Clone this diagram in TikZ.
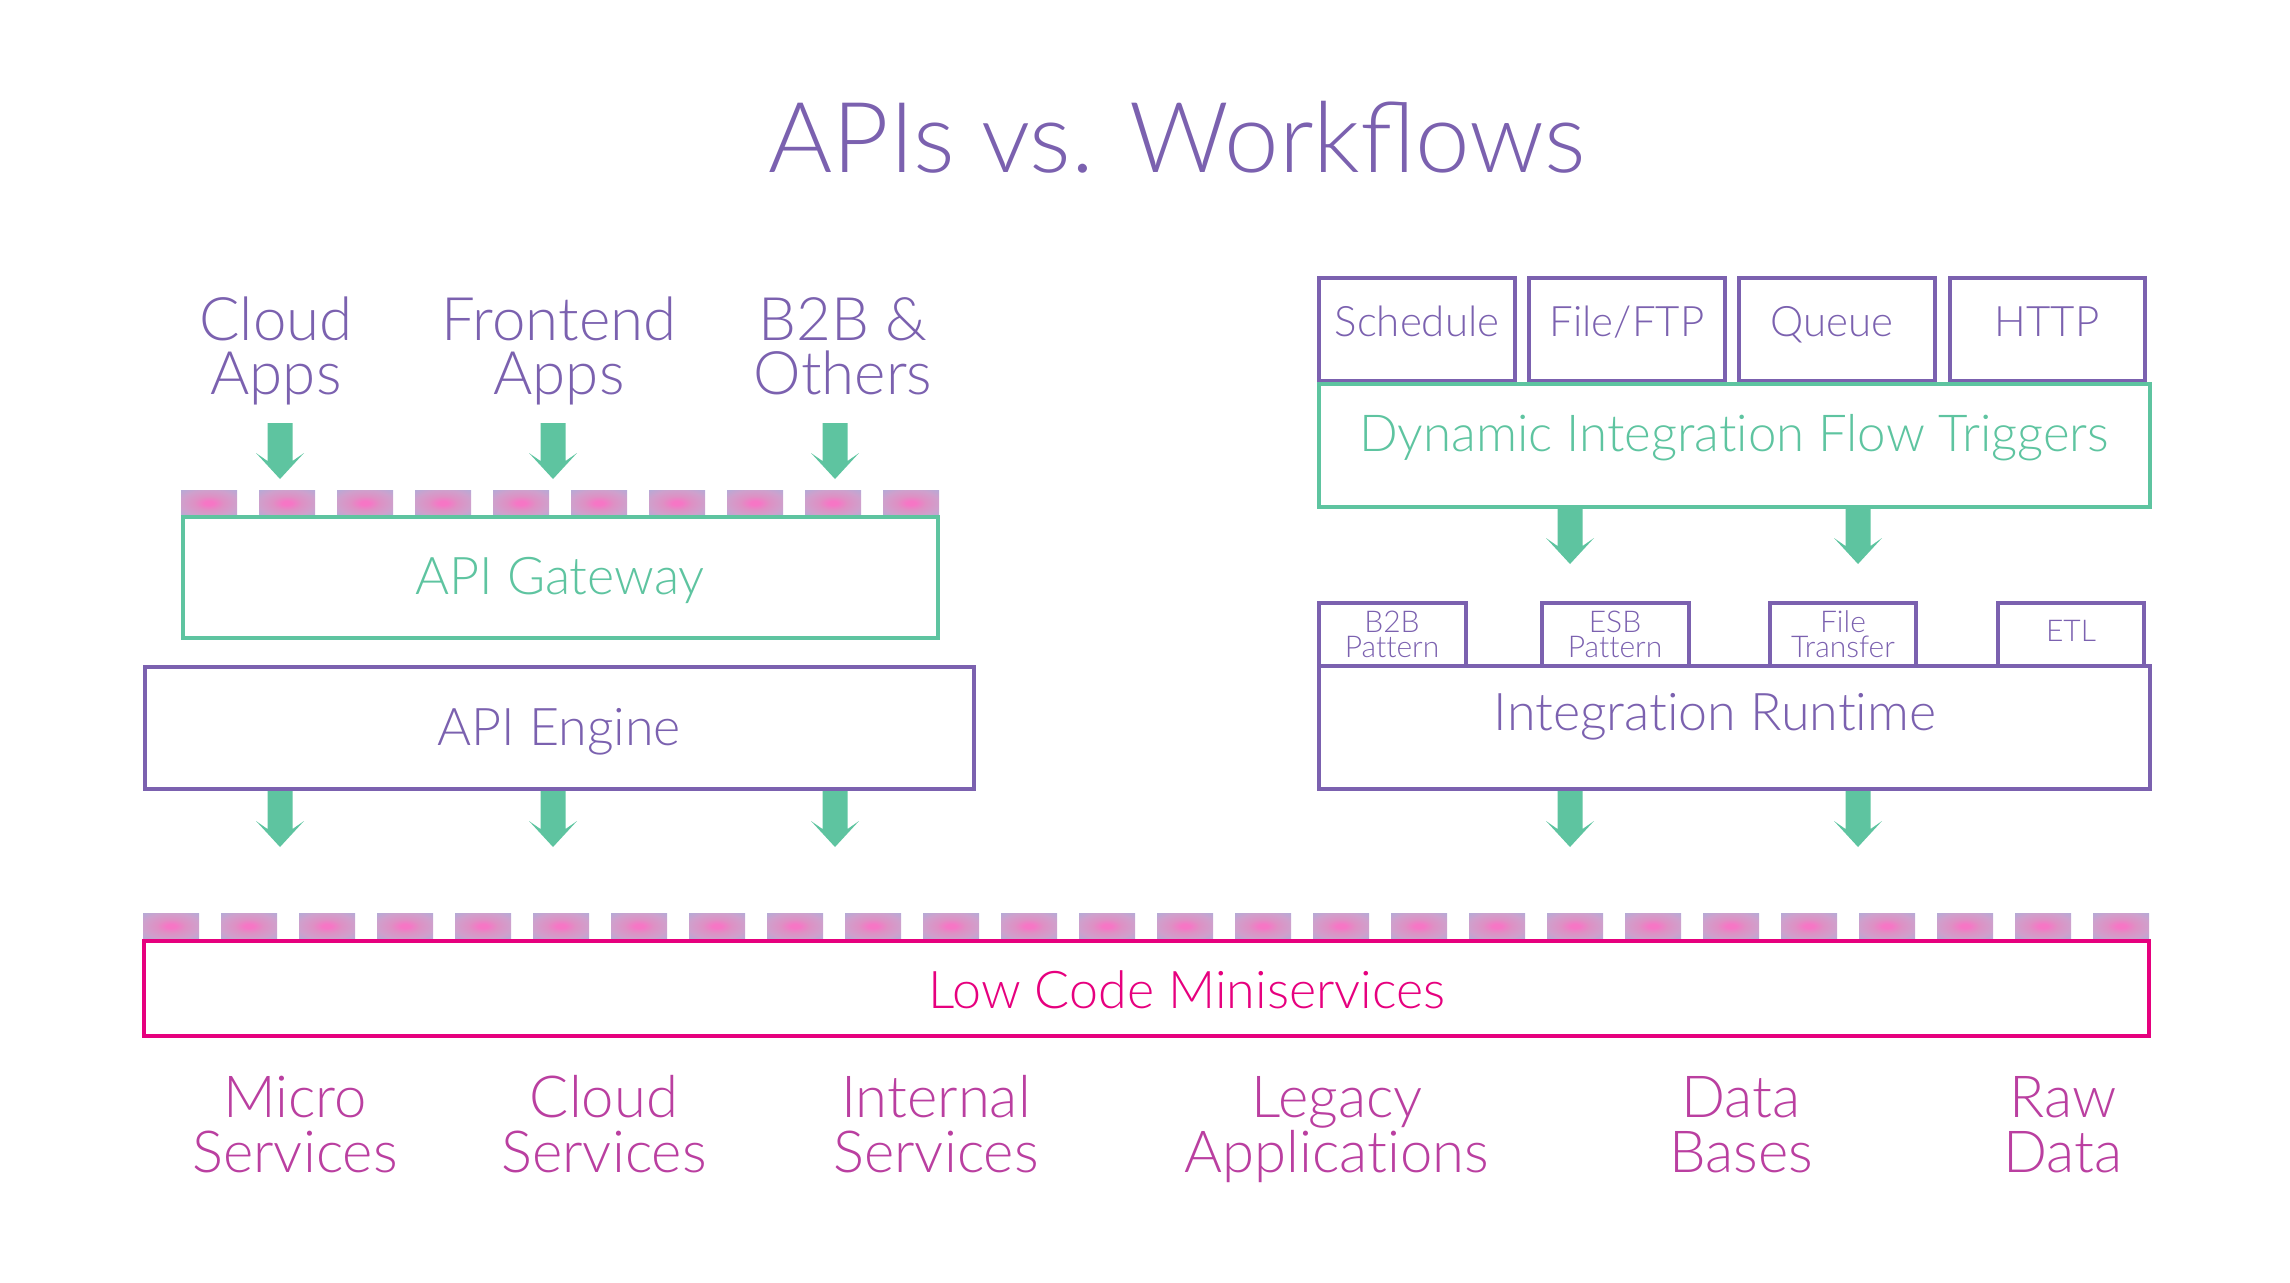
\documentclass[tikz,border=0pt]{standalone}
\usepackage{fontspec}
\setmainfont{Lato Light}[Ligatures=NoCommon]
\definecolor{purp}{HTML}{7B61AF}
\definecolor{grn}{HTML}{5EC4A0}
\definecolor{pnk}{HTML}{E6007E}
\definecolor{mag}{HTML}{BA3FA0}
\definecolor{sqpink}{HTML}{F676C5}
\definecolor{sqmid}{HTML}{DE90C4}
\definecolor{sqedge}{HTML}{CFA0CC}
\definecolor{sqlav}{HTML}{B6AAD6}
\pgfdeclareradialshading{sqshade}{\pgfpoint{0bp}{0bp}}{color(0bp)=(sqpink); color(4bp)=(sqpink); color(13bp)=(sqmid); color(25bp)=(sqedge); color(35bp)=(sqlav); color(50bp)=(sqlav)}
\tikzset{
  lbl/.style={inner sep=0pt, anchor=base, align=center},
  pbox/.style={draw=purp, line width=2pt},
  gbox/.style={draw=grn, line width=2pt},
  kbox/.style={draw=pnk, line width=2pt},
  garrow/.pic={\fill[grn] (-12.5,0) -- (12.5,0) -- (12.5,38) -- (24,30) -- (0,56) -- (-24,30) -- (-12.5,38) -- cycle;},
  sq/.style={shading=sqshade}
}
\begin{document}
\begin{tikzpicture}[x=0.5pt,y=-0.5pt]
\useasboundingbox (0,0) rectangle (2290,1282);
% title
\node[lbl, text=purp, font=\fontsize{49}{55}\selectfont] (title) at (1177,172) {APIs vs. Work^^^^fb02ows};
% left sources
\node[lbl, text=purp, font=\fontsize{30}{27}\selectfont] (cloudapps) at (276,394) {Cloud\\Apps};
\node[lbl, text=purp, font=\fontsize{30}{27}\selectfont] (frontapps) at (559,394) {Frontend\\Apps};
\node[lbl, text=purp, font=\fontsize{30}{27}\selectfont] (b2bapps) at (843,394) {B2B \&\\Others};
\foreach \x in {280,553,835} {\pic at (\x,423) {garrow};}
\foreach \i in {0,...,9} {\shade[sq] ({181+78*\i},490) rectangle ({237+78*\i},516);}
% API gateway / engine
\draw[gbox] (183,517) rectangle (938,638);
\node[lbl, text=grn, font=\fontsize{26}{30}\selectfont] (apigw) at (560,594) {API Gateway};
\draw[pbox] (145,667) rectangle (974,789);
\node[lbl, text=purp, font=\fontsize{26}{30}\selectfont] (apieng) at (559,745) {API Engine};
\foreach \x in {280,553,835} {\pic at (\x,791) {garrow};}
% right triggers
\draw[pbox] (1319,278) rectangle (1515,381);
\draw[pbox] (1529,278) rectangle (1725,381);
\draw[pbox] (1739,278) rectangle (1935,381);
\draw[pbox] (1950,278) rectangle (2145,381);
\node[lbl, text=purp, font=\fontsize{21}{25}\selectfont] (sched) at (1417,336) {Schedule};
\node[lbl, text=purp, font=\fontsize{21}{25}\selectfont] (ftp) at (1627,336) {File/FTP};
\node[lbl, text=purp, font=\fontsize{21}{25}\selectfont] (queue) at (1832,336) {Queue};
\node[lbl, text=purp, font=\fontsize{21}{25}\selectfont] (http) at (2047,336) {HTTP};
\draw[gbox] (1319,384) rectangle (2150,507);
\node[lbl, text=grn, font=\fontsize{25.5}{30}\selectfont] (dift) at (1734,451) {Dynamic Integration Flow Triggers};
\foreach \x in {1570,1858} {\pic at (\x,508) {garrow};}
% patterns
\draw[pbox] (1319,603) rectangle (1466,666);
\draw[pbox] (1542,603) rectangle (1689,666);
\draw[pbox] (1770,603) rectangle (1916,666);
\draw[pbox] (1998,603) rectangle (2144,666);
\node[lbl, text=purp, font=\fontsize{15}{12.5}\selectfont] (b2bp) at (1392,657) {B2B\\Pattern};
\node[lbl, text=purp, font=\fontsize{15}{12.5}\selectfont] (esbp) at (1615,657) {ESB\\Pattern};
\node[lbl, text=purp, font=\fontsize{15}{12.5}\selectfont] (filet) at (1843,657) {File\\Transfer};
\node[lbl, text=purp, font=\fontsize{15}{12.5}\selectfont] (etl) at (2071,641) {ETL};
\draw[pbox] (1319,666) rectangle (2150,789);
\node[lbl, text=purp, font=\fontsize{26}{30}\selectfont] (irt) at (1715,730) {Integration Runtime};
\foreach \x in {1570,1858} {\pic at (\x,791) {garrow};}
% bottom
\foreach \i in {0,...,25} {\shade[sq] ({143+78*\i},913) rectangle ({199+78*\i},939);}
\draw[kbox] (144,941) rectangle (2149,1036);
\node[lbl, text=pnk, font=\fontsize{26}{30}\selectfont] (lowcode) at (1187,1008) {Low Code Miniservices};
\node[lbl, text=mag, font=\fontsize{29}{27.5}\selectfont] (micro) at (295,1172) {Micro\\Services};
\node[lbl, text=mag, font=\fontsize{29}{27.5}\selectfont] (clouds) at (604,1172) {Cloud\\Services};
\node[lbl, text=mag, font=\fontsize{29}{27.5}\selectfont] (internal) at (936,1172) {Internal\\Services};
\node[lbl, text=mag, font=\fontsize{29}{27.5}\selectfont] (legacy) at (1337,1172) {Legacy\\Applications};
\node[lbl, text=mag, font=\fontsize{29}{27.5}\selectfont] (db) at (1741,1172) {Data\\Bases};
\node[lbl, text=mag, font=\fontsize{29}{27.5}\selectfont] (raw) at (2063,1172) {Raw\\Data};
\end{tikzpicture}
\end{document}
